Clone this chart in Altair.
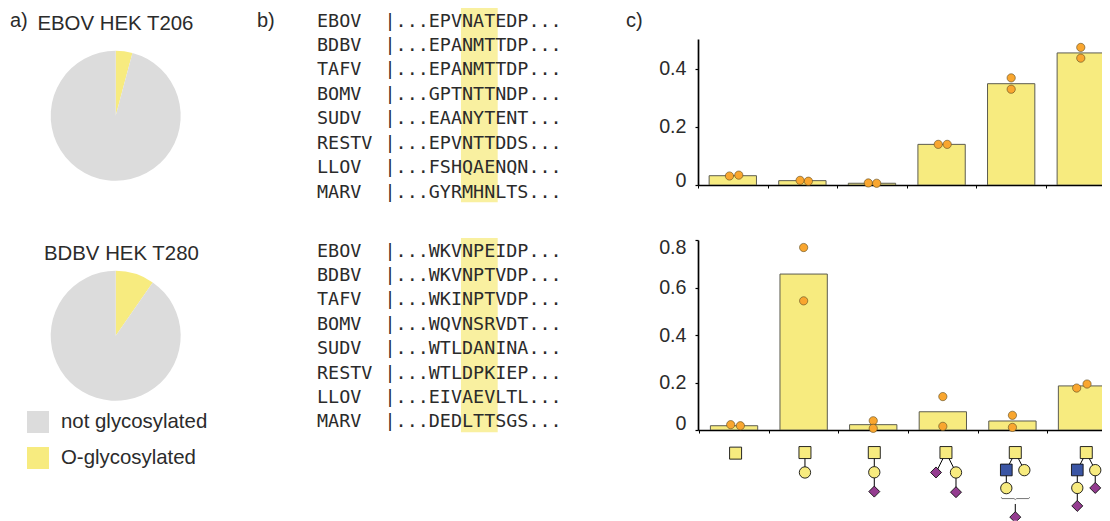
import altair as alt
import pandas as pd

SANS = "Liberation Sans"
MONO = "DejaVu Sans Mono"
INK = "#2b2b2b"
YEL = "#F7EB7F"
GREY = "#DCDCDC"
ORANGE = "#F9A62F"
PURPLE = "#943C90"
BLUE = "#3A55A4"

# ---------- pies
pie_labels = ["O-glycosylated", "not glycosylated"]
pie_ebov = [0.0415, 0.9585]
pie_bdbv = [0.0965, 0.9035]

# ---------- alignments
viruses = ["EBOV", "BDBV", "TAFV", "BOMV", "SUDV", "RESTV", "LLOV", "MARV"]
seq_top = ["|...EPVNATEDP...", "|...EPANMTTDP...", "|...EPANMTTDP...", "|...GPTNTTNDP...",
           "|...EAANYTENT...", "|...EPVNTTDDS...", "|...FSHQAENQN...", "|...GYRMHNLTS..."]
seq_bot = ["|...WKVNPEIDP...", "|...WKVNPTVDP...", "|...WKINPTVDP...", "|...WQVNSRVDT...",
           "|...WTLDANINA...", "|...WTLDPKIEP...", "|...EIVAEVLTL...", "|...DEDLTTSGS..."]

# ---------- bars
bar_top = [0.032, 0.015, 0.006, 0.140, 0.349, 0.455]
bar_bot = [0.018, 0.658, 0.0225, 0.077, 0.038, 0.186]
dots_top_x = [0.452, 0.586, 1.467, 1.586, 2.447, 2.567, 3.452, 3.581, 4.5, 4.5, 5.5, 5.5]
dots_top_y = [0.031, 0.034, 0.016, 0.013, 0.007, 0.006, 0.140, 0.140, 0.369, 0.330, 0.474, 0.437]
dots_bot_x = [0.452, 0.591, 1.5, 1.5, 2.5, 2.5, 3.5, 3.5, 4.5, 4.5, 5.423, 5.572]
dots_bot_y = [0.0225, 0.018, 0.770, 0.545, 0.039, 0.007, 0.141, 0.0155, 0.062, 0.011, 0.177, 0.194]

# ---------- glycan cartoons (x in bar units, y in sugar levels)
node_x = [0.54, 1.537, 1.537, 2.533, 2.533, 2.533, 3.563, 3.42, 3.707, 3.707,
          4.559, 4.43, 4.689, 4.43, 4.559, 5.579, 5.45, 5.708, 5.45, 5.45, 5.708]
node_y = [0.03, 0, 1.03, 0, 1.02, 2.02, 0, 1.03, 1.03, 2.05,
          0, 0.9, 0.91, 1.84, 3.34, 0, 0.9, 0.91, 1.83, 2.76, 1.83]
node_kind = ["gal", "gal", "hex", "gal", "hex", "sia", "gal", "sia", "hex", "sia",
             "gal", "nac", "hex", "hex", "sia", "gal", "nac", "hex", "hex", "sia", "sia"]
edge_x = [1.537, 2.533, 2.533, 3.563, 3.563, 3.707, 4.559, 4.559, 4.43, 4.559,
          5.579, 5.579, 5.45, 5.45, 5.708]
edge_x2 = [1.537, 2.533, 2.533, 3.42, 3.707, 3.707, 4.43, 4.689, 4.43, 4.559,
           5.45, 5.708, 5.45, 5.45, 5.708]
edge_y = [0, 0, 1.02, 0, 0, 1.03, 0, 0, 0.9, 2.66, 0, 0, 0.9, 1.83, 0.91]
edge_y2 = [1.03, 1.02, 2.02, 1.03, 1.03, 2.05, 0.9, 0.91, 1.84, 3.14, 0.9, 0.91, 1.83, 2.76, 1.83]
brace_x = [4.358, 4.368, 4.54, 4.559, 4.579, 4.752, 4.766]
brace_y = [2.31, 2.38, 2.38, 2.43, 2.38, 2.38, 2.31]


def pie(values, title, w, h, cx, cy, title_x, title_y, legend=None, extra=None):
    df = pd.DataFrame({"state": pie_labels, "share": values, "ord": [0, 1]})
    arc = alt.Chart(df).mark_arc(outerRadius=65, stroke=None).encode(
        theta=alt.Theta("share:Q", stack=True),
        order=alt.Order("ord:Q"),
        color=alt.Color("state:N",
                        scale=alt.Scale(domain=["not glycosylated", "O-glycosylated"], range=[GREY, YEL]),
                        legend=legend),
        x=alt.value(cx), y=alt.value(cy),
    )
    ttl = alt.Chart(pd.DataFrame({"t": [title]})).mark_text(
        font=SANS, fontSize=20.4, color=INK, align="center", baseline="middle"
    ).encode(text="t:N", x=alt.value(title_x), y=alt.value(title_y))
    layers = [arc, ttl]
    if extra:
        lab = alt.Chart(pd.DataFrame({"t": [extra[0]]})).mark_text(
            font=SANS, fontSize=20, color=INK, align="left", baseline="middle"
        ).encode(text="t:N", x=alt.value(extra[1]), y=alt.value(extra[2]))
        layers.append(lab)
    return alt.layer(*layers).properties(width=w, height=h).resolve_scale(color="independent")


legend = alt.Legend(orient="none", legendX=19, legendY=178, title=None, padding=0,
                    symbolType="square", symbolSize=484, symbolStrokeWidth=0, symbolOpacity=1,
                    labelFont=SANS, labelFontSize=20.4, labelColor=INK, labelOffset=12,
                    rowPadding=14, labelLimit=300)

pie1 = pie(pie_ebov, "EBOV HEK T206", 240, 225, 107.7, 107.8, 107.4, 16.2, extra=("a)", 2, 13))
pie2 = pie(pie_bdbv, "BDBV HEK T280", 240, 250, 107.7, 102.8, 113.4, 21, legend=legend)
col_a = alt.vconcat(pie1, pie2, spacing=0)

CHAR_X = alt.Scale(domain=[-6.216, 29.82])


def alignment(seqs, ydomain, extra=(), h=225):
    n = len(seqs)
    df = pd.DataFrame({"row": list(range(n)), "name": viruses, "seq": seqs,
                       "c0": [0] * n, "c1": [6.08] * n})
    yenc = alt.Y("row:Q", scale=alt.Scale(domain=ydomain), axis=None)
    band = alt.Chart(pd.DataFrame({"a": [12.97], "b": [16.28], "t": [-0.52], "u": [7.44]})).mark_rect(
        color="#F9F0A0", clip=True
    ).encode(
        x=alt.X("a:Q", scale=CHAR_X, axis=None), x2="b:Q",
        y=alt.Y("t:Q", scale=alt.Scale(domain=ydomain), axis=None), y2="u:Q",
    )
    names = alt.Chart(df).mark_text(font=MONO, fontSize=18.4, color=INK, align="left", baseline="middle").encode(
        x=alt.X("c0:Q", scale=CHAR_X, axis=None), y=yenc, text="name:N")
    seq = alt.Chart(df).mark_text(font=MONO, fontSize=18.4, color=INK, align="left", baseline="middle").encode(
        x=alt.X("c1:Q", scale=CHAR_X, axis=None), y=yenc, text="seq:N")
    layers = [band, names, seq]
    for t, x, y in extra:
        layers.append(alt.Chart(pd.DataFrame({"t": [t]})).mark_text(
            font=SANS, fontSize=20, color=INK, align="left", baseline="middle"
        ).encode(text="t:N", x=alt.value(x), y=alt.value(y)))
    return alt.layer(*layers).properties(width=400, height=h)


col_b = alt.vconcat(
    alignment(seq_top, [8.70, -0.52], extra=[("b)", 9, 13), ("c)", 378, 13)]),
    alignment(seq_bot, [8.496, -0.725]),
    spacing=0,
)


def bars(values, dx, dy, ydom, yticks, xdom, h, flush_offset):
    n = len(values)
    pos = [i + 0.5 for i in range(n)]
    bdf = pd.DataFrame({"a": [p - 0.34 for p in pos], "b": [p + 0.34 for p in pos], "v": values})
    ddf = pd.DataFrame({"x": dx, "y": dy})
    xs = alt.Scale(domain=xdom, nice=False, zero=False)
    ys = alt.Scale(domain=ydom, nice=False)
    xaxis = alt.Axis(values=list(range(6)), labels=False, title=None, grid=False, tickSize=3,
                     tickColor="black", tickWidth=1, domainColor="black", domainWidth=1.7)
    yaxis = alt.Axis(values=yticks, format=".1~f", title=None, grid=False, tickSize=3,
                     tickColor="black", tickWidth=1.2, domainColor="black", domainWidth=1.7,
                     labelFont=SANS, labelFontSize=19.7, labelColor=INK, labelPadding=9,
                     labelFlush=True, labelFlushOffset=flush_offset,
                     minExtent=50, maxExtent=50)
    b = alt.Chart(bdf).mark_rect(fill=YEL, stroke="#5c5c50", strokeWidth=1, clip=True).encode(
        x=alt.X("a:Q", scale=xs, axis=xaxis), x2="b:Q",
        y=alt.Y("v:Q", scale=ys, axis=yaxis), y2=alt.datum(0),
    )
    d = alt.Chart(ddf).mark_point(filled=True, fill=ORANGE, stroke="#5a4a20", strokeWidth=0.6,
                                  size=68, opacity=1).encode(
        x=alt.X("x:Q", scale=xs), y=alt.Y("y:Q", scale=ys),
    )
    return alt.layer(b, d).properties(width=404, height=h)


panel_top = bars(bar_top, dots_top_x, dots_top_y, [0, 0.503], [0, 0.2, 0.4], [0, 5.805], 146, 5)
panel_bot = bars(bar_bot, dots_bot_x, dots_bot_y, [0, 0.8017], [0, 0.2, 0.4, 0.6, 0.8], [-0.018, 5.787], 190, 3)

gx = alt.Scale(domain=[0, 5.805], nice=False, zero=False)
gy = alt.Scale(domain=[3.53, -0.582], nice=False, zero=False)
edf = pd.DataFrame({"a": edge_x, "b": edge_x2, "c": edge_y, "d": edge_y2})
edges = alt.Chart(edf).mark_rule(color="black", strokeWidth=1, clip=True).encode(
    x=alt.X("a:Q", scale=gx, axis=None), x2="b:Q",
    y=alt.Y("c:Q", scale=gy, axis=None), y2="d:Q",
)
brace = alt.Chart(pd.DataFrame({"x": brace_x, "y": brace_y, "i": list(range(len(brace_x)))})).mark_line(
    color="#555555", strokeWidth=0.8, clip=True
).encode(x=alt.X("x:Q", scale=gx, axis=None), y=alt.Y("y:Q", scale=gy, axis=None), order="i:Q")
ndf = pd.DataFrame({"x": node_x, "y": node_y, "kind": node_kind})
nodes = alt.Chart(ndf).mark_point(filled=True, stroke="#111111", strokeWidth=0.9, opacity=1, clip=True).encode(
    x=alt.X("x:Q", scale=gx, axis=None), y=alt.Y("y:Q", scale=gy, axis=None),
    shape=alt.Shape("kind:N", scale=alt.Scale(domain=["gal", "nac", "hex", "sia"],
                                              range=["square", "square", "circle", "diamond"]), legend=None),
    fill=alt.Fill("kind:N", scale=alt.Scale(domain=["gal", "nac", "hex", "sia"],
                                            range=[YEL, BLUE, YEL, PURPLE]), legend=None),
    size=alt.Size("kind:N", scale=alt.Scale(domain=["gal", "nac", "hex", "sia"],
                                            range=[144, 121, 135, 135]), legend=None),
)
glycans = alt.layer(edges, brace, nodes).properties(width=404, height=79.5)

spacer = alt.Chart(pd.DataFrame({"x": [0], "y": [0]})).mark_point(opacity=0).encode(
    x=alt.X("x:Q", axis=None), y=alt.Y("y:Q", axis=None)
).properties(width=404, height=31)

col_c = alt.vconcat(spacer, alt.vconcat(alt.vconcat(panel_top, panel_bot, spacing=47), glycans, spacing=7.3), spacing=0)

chart = alt.hconcat(col_a, col_b, col_c, spacing=0).properties(padding=0).configure_view(stroke=None)
chart.save("out.html", embed_options={"renderer": "svg", "actions": False})
